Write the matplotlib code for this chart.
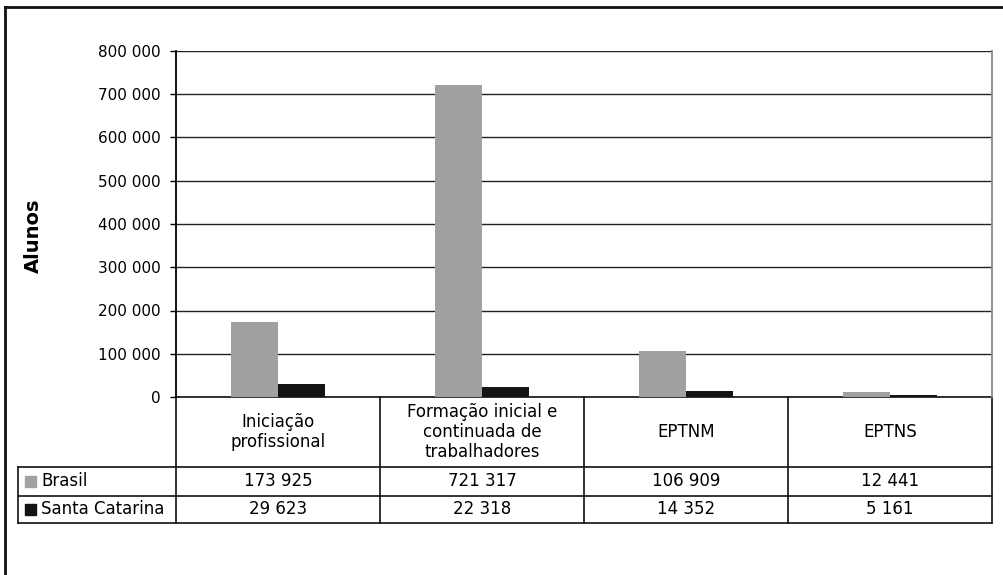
import matplotlib.pyplot as plt
import matplotlib.transforms as mtransforms
from matplotlib.lines import Line2D
from matplotlib.patches import Rectangle
import numpy as np

# Data
categories = ['Iniciação\nprofissional', 'Formação inicial e\ncontinuada de\ntrabalhadores',
              'EPTNM', 'EPTNS']
series_names = ['Brasil', 'Santa Catarina']
brasil = [173925, 721317, 106909, 12441]
santa_catarina = [29623, 22318, 14352, 5161]
colors = ['#a0a0a0', '#141414']

plt.rcParams['font.family'] = 'DejaVu Sans'

W, H = 1004, 575
fig = plt.figure(figsize=(W / 100, H / 100), dpi=100)

# plot area in pixels
left_px, right_px, top_px, bottom_px = 176, 992, 51, 397
ax = fig.add_axes([left_px / W, 1 - bottom_px / H,
                   (right_px - left_px) / W, (bottom_px - top_px) / H])

x = np.arange(len(categories))
bw = 0.23
ax.bar(x - bw / 2, brasil, bw, color=colors[0], zorder=3)
ax.bar(x + bw / 2, santa_catarina, bw, color=colors[1], zorder=3)

ax.set_xlim(-0.5, len(categories) - 0.5)
ax.set_ylim(0, 800000)
yt = np.arange(0, 800001, 100000)
ax.set_yticks(yt)
ax.set_yticklabels([f'{v:,.0f}'.replace(',', ' ') for v in yt], fontsize=11)
ax.tick_params(axis='y', length=4, width=1, color='black', pad=7)
ax.set_xticks([])
ax.yaxis.grid(True, color='#222222', linewidth=1, zorder=0)

for s in ['top', 'bottom']:
    ax.spines[s].set_visible(False)
ax.spines['left'].set_color('black')
ax.spines['left'].set_linewidth(1.3)
ax.spines['right'].set_color('#888888')
ax.spines['right'].set_linewidth(1.3)

ax.set_ylabel('Alunos', fontsize=14, fontweight='bold')
ax.yaxis.set_label_coords(-(left_px - 43) / (right_px - left_px),
                          (bottom_px - 236) / (bottom_px - top_px))

# Data table below the axis
ph = bottom_px - top_px
row_y = [0, -70 / ph, -99 / ph, -126 / ph]
label_left = -0.5 + (18 - left_px) / ((right_px - left_px) / len(categories))
tr = mtransforms.blended_transform_factory(ax.transData, ax.transAxes)
lk = dict(transform=tr, clip_on=False, color='#111111', linewidth=1.2)

xr = len(categories) - 0.5
ax.add_line(Line2D([-0.5, xr], [0, 0], **lk))
for yy in row_y[1:]:
    ax.add_line(Line2D([label_left, xr], [yy, yy], **lk))
for b in np.arange(-0.5, len(categories), 1.0):
    ax.add_line(Line2D([b, b], [row_y[3], 0], **lk))
ax.add_line(Line2D([label_left, label_left], [row_y[3], row_y[1]], **lk))

for i, c in enumerate(categories):
    ax.text(i, (row_y[0] + row_y[1]) / 2, c, transform=tr, ha='center', va='center',
            fontsize=12, linespacing=1.12, clip_on=False)
    for r, vals in enumerate([brasil, santa_catarina]):
        ax.text(i, (row_y[r + 1] + row_y[r + 2]) / 2, f'{vals[i]:,}'.replace(',', ' '),
                transform=tr, ha='center', va='center', fontsize=12, clip_on=False)

# legend keys in the row headers
for r, name in enumerate(series_names):
    ym = (row_y[r + 1] + row_y[r + 2]) / 2
    yc = 1 - (bottom_px - ym * ph) / H
    fig.patches.append(Rectangle((25 / W, yc - 5.5 / H), 11 / W, 11 / H, color=colors[r],
                                 transform=fig.transFigure))
    fig.text(41 / W, yc, name, ha='left', va='center', fontsize=12)

# outer chart frame
fig.add_artist(Line2D([5 / W, 1], [1 - 7 / H, 1 - 7 / H], color='#111111', linewidth=2))
fig.add_artist(Line2D([5 / W, 5 / W], [0, 1 - 7 / H], color='#111111', linewidth=2))

fig.savefig('out.png', dpi=100, facecolor='white')
